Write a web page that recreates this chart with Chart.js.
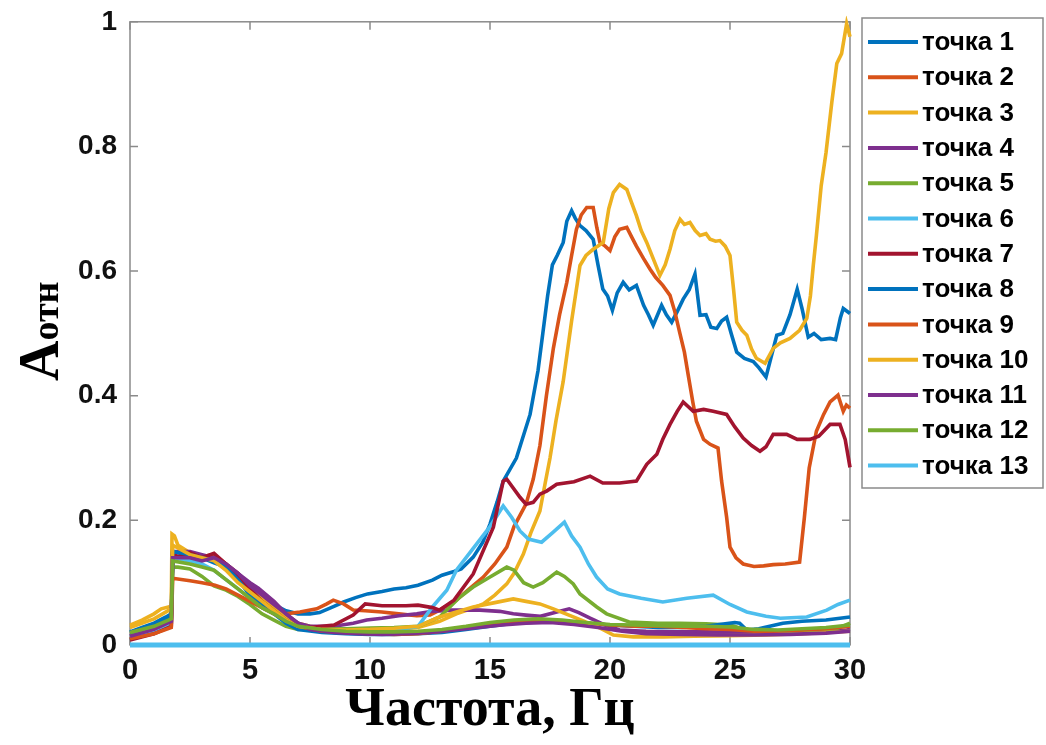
<!DOCTYPE html>
<html>
<head>
<meta charset="utf-8">
<script src="https://cdn.jsdelivr.net/npm/chart.js@4.4.1/dist/chart.umd.min.js"></script>
<style>
  body { margin: 0; background: #fff; }
  #wrap { width: 1046px; height: 745px; }
</style>
</head>
<body>
<div id="wrap"><canvas id="graf" width="1046" height="745"></canvas></div>
<script>
// точки: [частота, Aотн]
const tochka1 = [[0,0.021],[0.5,0.028],[1,0.035],[1.5,0.045],[1.72,0.05],[1.78,0.15],[2,0.148],[2.5,0.145],[3,0.14],[3.5,0.132],[4,0.125],[4.5,0.11],[5,0.095],[5.5,0.08],[6,0.065],[6.5,0.055],[7,0.05],[7.5,0.05],[7.9,0.052],[8.5,0.062],[8.9,0.069],[9.4,0.076],[9.9,0.082],[10.5,0.086],[11,0.09],[11.5,0.092],[12,0.096],[12.6,0.104],[13,0.112],[13.5,0.118],[13.8,0.122],[14.3,0.141],[14.7,0.165],[15,0.194],[15.3,0.23],[15.55,0.263],[16.1,0.3],[16.67,0.37],[17,0.44],[17.2,0.5],[17.4,0.56],[17.6,0.61],[17.8,0.625],[18.05,0.646],[18.2,0.68],[18.4,0.697],[18.55,0.685],[18.75,0.673],[19,0.665],[19.3,0.651],[19.5,0.61],[19.7,0.571],[19.9,0.56],[20.1,0.537],[20.3,0.565],[20.55,0.582],[20.8,0.57],[21.1,0.577],[21.4,0.545],[21.6,0.53],[21.8,0.513],[22.15,0.545],[22.35,0.53],[22.57,0.518],[22.8,0.535],[23.05,0.555],[23.3,0.57],[23.54,0.595],[23.75,0.529],[24,0.53],[24.2,0.51],[24.45,0.508],[24.65,0.52],[24.86,0.526],[25.05,0.5],[25.28,0.47],[25.6,0.46],[25.97,0.455],[26.2,0.445],[26.5,0.43],[26.7,0.46],[26.95,0.497],[27.2,0.5],[27.5,0.53],[27.8,0.571],[28,0.54],[28.26,0.494],[28.5,0.5],[28.8,0.49],[29.17,0.492],[29.4,0.49],[29.6,0.525],[29.72,0.54],[30,0.532]];
const tochka2 = [[0,0.011],[0.5,0.015],[1,0.02],[1.5,0.028],[1.72,0.032],[1.78,0.145],[2,0.14],[2.5,0.138],[3,0.142],[3.5,0.145],[4,0.13],[4.5,0.115],[5,0.095],[5.5,0.08],[6,0.065],[6.5,0.05],[7.08,0.053],[7.78,0.058],[8.2,0.066],[8.47,0.072],[8.9,0.066],[9.3,0.056],[9.8,0.055],[10.5,0.053],[11.2,0.05],[11.95,0.047],[12.5,0.048],[12.9,0.056],[13.6,0.072],[14.2,0.092],[14.72,0.109],[15.2,0.13],[15.7,0.157],[16,0.19],[16.5,0.226],[16.8,0.266],[17.08,0.32],[17.35,0.4],[17.64,0.476],[17.9,0.53],[18.2,0.582],[18.4,0.625],[18.6,0.667],[18.8,0.69],[19.03,0.702],[19.3,0.702],[19.45,0.67],[19.58,0.646],[19.8,0.64],[20,0.633],[20.2,0.655],[20.4,0.667],[20.7,0.67],[20.9,0.655],[21.1,0.64],[21.4,0.62],[21.67,0.603],[21.9,0.59],[22.2,0.577],[22.5,0.561],[22.7,0.535],[22.9,0.502],[23.1,0.47],[23.26,0.433],[23.45,0.39],[23.6,0.359],[23.9,0.33],[24.17,0.322],[24.5,0.316],[24.65,0.263],[24.86,0.205],[25,0.157],[25.25,0.14],[25.55,0.13],[26,0.126],[26.4,0.127],[26.8,0.129],[27.3,0.13],[27.9,0.133],[28.1,0.205],[28.3,0.284],[28.6,0.343],[28.9,0.37],[29.17,0.39],[29.5,0.401],[29.72,0.375],[29.85,0.385],[30,0.38]];
const tochka3 = [[0,0.032],[0.5,0.04],[1,0.05],[1.3,0.058],[1.72,0.062],[1.75,0.178],[1.85,0.175],[2,0.16],[2.5,0.148],[3,0.14],[3.5,0.14],[4,0.128],[4.5,0.11],[5,0.09],[5.5,0.075],[6,0.06],[6.5,0.045],[7,0.035],[7.5,0.03],[8,0.027],[9,0.025],[10,0.024],[11,0.025],[12,0.028],[12.9,0.038],[13.6,0.05],[14.2,0.058],[14.72,0.066],[15.2,0.08],[15.7,0.098],[16,0.115],[16.39,0.146],[16.7,0.18],[17.08,0.215],[17.3,0.26],[17.5,0.3],[17.75,0.36],[18.05,0.423],[18.4,0.52],[18.75,0.609],[19,0.625],[19.3,0.635],[19.72,0.646],[19.95,0.7],[20.14,0.726],[20.4,0.739],[20.7,0.731],[20.9,0.71],[21.1,0.689],[21.3,0.665],[21.53,0.646],[21.8,0.62],[22.08,0.593],[22.3,0.61],[22.5,0.635],[22.7,0.665],[22.92,0.683],[23.1,0.675],[23.33,0.678],[23.55,0.665],[23.75,0.657],[24,0.66],[24.17,0.651],[24.4,0.648],[24.58,0.649],[24.8,0.64],[25,0.625],[25.15,0.57],[25.28,0.518],[25.5,0.505],[25.7,0.497],[25.9,0.475],[26.1,0.46],[26.46,0.452],[26.8,0.476],[27.1,0.485],[27.5,0.492],[27.9,0.505],[28.2,0.524],[28.35,0.56],[28.47,0.609],[28.6,0.657],[28.8,0.737],[29,0.79],[29.24,0.87],[29.45,0.933],[29.65,0.949],[29.86,0.997],[30,0.976]];
const tochka4 = [[0,0.015],[1,0.025],[1.72,0.035],[1.78,0.15],[2.5,0.15],[3,0.145],[3.5,0.14],[4,0.13],[4.5,0.115],[5,0.1],[5.35,0.091],[6,0.07],[6.5,0.05],[7,0.035],[7.5,0.03],[8.5,0.03],[9.3,0.035],[9.86,0.04],[10.5,0.043],[11.2,0.047],[11.95,0.05],[12.6,0.054],[13.33,0.056],[14,0.056],[14.58,0.056],[15.4,0.054],[15.97,0.05],[16.5,0.048],[17.1,0.046],[17.7,0.052],[18.3,0.058],[18.7,0.052],[19.17,0.043],[19.8,0.032],[20.4,0.024],[21.5,0.022],[22.9,0.021],[24,0.021],[25.7,0.02],[27,0.019],[28.5,0.021],[29.86,0.024],[30,0.025]];
const tochka5 = [[0,0.018],[1,0.028],[1.72,0.04],[1.78,0.125],[2,0.125],[2.5,0.122],[3,0.11],[3.5,0.095],[4,0.088],[4.5,0.078],[5,0.065],[5.5,0.05],[6,0.04],[6.5,0.03],[7,0.025],[8,0.025],[9,0.026],[10,0.027],[11,0.028],[12,0.03],[12.9,0.045],[13.75,0.077],[14.3,0.093],[15,0.109],[15.7,0.125],[16,0.12],[16.4,0.1],[16.8,0.093],[17.2,0.1],[17.78,0.117],[18.1,0.11],[18.47,0.098],[18.75,0.082],[19.45,0.061],[19.86,0.05],[20.8,0.037],[22,0.035],[22.9,0.035],[24,0.034],[25,0.032],[25.7,0.024],[26.5,0.022],[27.5,0.021],[28.5,0.021],[29.3,0.024],[30,0.035]];
const tochka6 = [[0,0.012],[1,0.022],[1.72,0.035],[1.78,0.14],[2.5,0.135],[3,0.13],[3.5,0.12],[4,0.105],[4.5,0.09],[5,0.075],[5.5,0.06],[6,0.05],[6.5,0.04],[7,0.03],[7.5,0.025],[8,0.022],[9,0.02],[10,0.021],[11,0.023],[12,0.03],[12.6,0.061],[13.2,0.088],[13.6,0.12],[14.3,0.155],[15,0.19],[15.55,0.223],[15.9,0.205],[16.25,0.183],[16.6,0.17],[17.15,0.165],[17.6,0.18],[18.1,0.197],[18.4,0.175],[18.75,0.157],[19.1,0.13],[19.44,0.109],[19.9,0.09],[20.4,0.082],[21.3,0.075],[22.2,0.069],[23.2,0.075],[24.3,0.08],[25,0.065],[25.7,0.053],[26.5,0.046],[27.1,0.043],[28.2,0.045],[29.03,0.056],[29.5,0.065],[30,0.072]];
const tochka7 = [[0,0.008],[1,0.018],[1.72,0.03],[1.78,0.145],[2,0.142],[2.5,0.148],[3,0.14],[3.5,0.147],[4,0.13],[4.5,0.11],[5,0.09],[5.5,0.07],[6,0.055],[6.5,0.04],[7,0.03],[7.5,0.028],[8.5,0.032],[9.3,0.048],[9.8,0.066],[10.5,0.063],[11.5,0.063],[12,0.064],[12.6,0.06],[12.9,0.056],[13.5,0.072],[14.3,0.114],[15.14,0.189],[15.55,0.263],[15.7,0.266],[16.25,0.237],[16.5,0.226],[16.8,0.229],[17.08,0.242],[17.36,0.247],[17.78,0.258],[18.5,0.262],[19.17,0.271],[19.7,0.26],[20.4,0.26],[21.1,0.263],[21.53,0.29],[21.95,0.306],[22.2,0.33],[22.5,0.354],[22.8,0.375],[23.05,0.39],[23.47,0.375],[23.9,0.378],[24.3,0.375],[24.86,0.37],[25.2,0.35],[25.55,0.332],[25.9,0.32],[26.25,0.311],[26.5,0.318],[26.8,0.338],[27.36,0.338],[27.8,0.33],[28.33,0.33],[28.7,0.335],[29.17,0.354],[29.58,0.354],[29.8,0.33],[30,0.285]];
const tochka8 = [[0,0.02],[1,0.032],[1.72,0.045],[1.78,0.15],[2.5,0.145],[3,0.14],[3.5,0.135],[4,0.125],[4.5,0.105],[5,0.08],[5.5,0.065],[6,0.05],[6.5,0.035],[7,0.025],[8,0.02],[9,0.018],[10,0.017],[11,0.017],[12,0.018],[13,0.02],[14,0.025],[15,0.03],[16,0.035],[17,0.037],[18,0.037],[19,0.035],[20,0.032],[21,0.03],[22,0.028],[23,0.028],[24,0.03],[24.8,0.034],[25.2,0.036],[25.4,0.035],[25.7,0.024],[26.2,0.026],[27.2,0.035],[28,0.038],[29,0.04],[30,0.045]];
const tochka9 = [[0,0.01],[1,0.018],[1.72,0.028],[1.78,0.107],[2.5,0.103],[3,0.1],[3.54,0.096],[4,0.09],[4.5,0.08],[5,0.07],[5.5,0.06],[6,0.05],[6.5,0.04],[7,0.03],[8,0.022],[9,0.02],[10,0.018],[11,0.017],[12,0.018],[13,0.022],[14,0.028],[15,0.033],[16,0.037],[17,0.04],[18,0.038],[19,0.035],[20,0.032],[21,0.03],[22,0.03],[23,0.028],[24,0.026],[25,0.025],[26,0.022],[27,0.022],[28,0.024],[29,0.026],[30,0.03]];
const tochka10 = [[0,0.028],[1,0.042],[1.72,0.058],[1.78,0.16],[2.5,0.145],[3,0.14],[3.5,0.135],[4,0.12],[4.5,0.1],[5,0.085],[5.5,0.07],[6,0.055],[6.5,0.04],[7,0.03],[8,0.025],[9,0.024],[10,0.025],[11,0.027],[12,0.03],[12.9,0.045],[14.3,0.061],[15.2,0.068],[15.97,0.074],[16.5,0.07],[17.08,0.066],[17.64,0.058],[18.47,0.045],[19.45,0.03],[20.14,0.016],[20.97,0.013],[22.2,0.013],[23.5,0.014],[25,0.015],[26.5,0.016],[28,0.018],[29,0.02],[30,0.022]];
const tochka11 = [[0,0.014],[1,0.025],[1.72,0.038],[1.78,0.14],[2.5,0.14],[3,0.135],[3.5,0.14],[4,0.13],[4.5,0.115],[5,0.095],[5.5,0.08],[6,0.065],[6.5,0.05],[7,0.035],[7.5,0.025],[8.5,0.02],[9.5,0.018],[10.5,0.017],[11.5,0.018],[12.5,0.02],[13.5,0.024],[14.5,0.028],[15.5,0.032],[16.5,0.035],[17.5,0.036],[18.5,0.033],[19.5,0.028],[20.5,0.022],[21.5,0.018],[23,0.017],[24.5,0.016],[26,0.016],[27.5,0.017],[29,0.019],[30,0.022]];
const tochka12 = [[0,0.02],[1,0.03],[1.72,0.042],[1.78,0.135],[2.5,0.13],[3,0.125],[3.5,0.12],[4,0.105],[4.5,0.09],[5,0.075],[5.5,0.06],[6,0.05],[6.5,0.038],[7,0.03],[8,0.025],[9,0.022],[10,0.021],[11,0.021],[12,0.022],[13,0.025],[14,0.03],[15,0.036],[16,0.04],[17,0.042],[18,0.04],[19,0.036],[20,0.033],[21,0.032],[22,0.031],[23,0.03],[24,0.03],[25,0.029],[26,0.025],[27,0.024],[28,0.026],[29,0.028],[30,0.032]];
const tochka13 = [[0,0],[30,0]];

const series = [tochka1, tochka2, tochka3, tochka4, tochka5, tochka6, tochka7, tochka8, tochka9, tochka10, tochka11, tochka12, tochka13];
const names = series.map((s, i) => "точка " + (i + 1));
const colors = ["#0072BD", "#D95319", "#EDB120", "#7E2F8E", "#77AC30", "#4DBEEE", "#A2142F",
                "#0072BD", "#D95319", "#EDB120", "#7E2F8E", "#77AC30", "#4DBEEE"];
const xTicks = [0, 5, 10, 15, 20, 25, 30];
const yTicks = [0, 0.2, 0.4, 0.6, 0.8, 1];

const SANS = "'Liberation Sans', Arial, sans-serif";
const SERIF = "'Liberation Serif', 'Times New Roman', serif";
const AXIS = "#8a8a8a";

// рамка и засечки внутрь (как в MATLAB)
const ramka = {
  id: "ramka",
  beforeDatasetsDraw(chart) {
    const { ctx, chartArea: a, scales: { x, y } } = chart;
    ctx.save();
    ctx.strokeStyle = AXIS;
    ctx.lineWidth = 1.5;
    ctx.strokeRect(a.left, a.top, a.width, a.height);
    const tl = 8;
    ctx.beginPath();
    x.ticks.forEach(t => {
      const px = x.getPixelForValue(t.value);
      ctx.moveTo(px, a.bottom); ctx.lineTo(px, a.bottom - tl);
      ctx.moveTo(px, a.top); ctx.lineTo(px, a.top + tl);
    });
    y.ticks.forEach(t => {
      const py = y.getPixelForValue(t.value);
      ctx.moveTo(a.left, py); ctx.lineTo(a.left + tl, py);
      ctx.moveTo(a.right, py); ctx.lineTo(a.right - tl, py);
    });
    ctx.stroke();
    ctx.restore();
  },
  afterDraw(chart) {
    const { ctx } = chart;
    ctx.save();
    // подпись оси Y: A + "отн"
    ctx.translate(58, 381);
    ctx.rotate(-Math.PI / 2);
    ctx.fillStyle = "#000";
    ctx.textBaseline = "alphabetic";
    ctx.font = "bold 56px " + SERIF;
    ctx.fillText("A", 0, 0);
    const wA = ctx.measureText("A").width;
    ctx.font = "bold 38px " + SERIF;
    ctx.fillText("отн", wA, 0);
    ctx.restore();

    // легенда
    ctx.save();
    const lx = 862, ly = 18, lw = 181, lh = 470;
    ctx.fillStyle = "#fff";
    ctx.fillRect(lx, ly, lw, lh);
    ctx.strokeStyle = AXIS;
    ctx.lineWidth = 1.5;
    ctx.strokeRect(lx, ly, lw, lh);
    ctx.font = "bold 26px " + SANS;
    ctx.textBaseline = "middle";
    chart.data.datasets.forEach((ds, i) => {
      const yy = 42 + i * 35.3;
      ctx.strokeStyle = ds.borderColor;
      ctx.lineWidth = 4;
      ctx.beginPath();
      ctx.moveTo(868, yy); ctx.lineTo(918, yy);
      ctx.stroke();
      ctx.fillStyle = "#000";
      ctx.fillText(ds.label, 922, yy + 1);
    });
    ctx.restore();
  }
};

const datasets = series.map((pts, i) => ({
  label: names[i],
  data: pts.map(([x, y]) => ({ x, y })),
  borderColor: colors[i],
  backgroundColor: colors[i],
  borderWidth: i === series.length - 1 ? 5 : 3.6,
  pointRadius: 0,
  tension: 0,
  order: series.length - i,
  clip: 6
}));

new Chart(document.getElementById("graf"), {
  type: "line",
  data: { datasets },
  options: {
    responsive: false,
    animation: false,
    layout: { padding: { left: 0, top: 6, right: 196, bottom: 0 } },
    plugins: { legend: { display: false }, tooltip: { enabled: false } },
    scales: {
      x: {
        type: "linear", min: 0, max: 30,
        afterBuildTicks: s => { s.ticks = xTicks.map(v => ({ value: v })); },
        ticks: { color: "#111", font: { family: SANS, size: 29, weight: "bold" }, padding: 1, maxRotation: 0 },
        grid: { display: false },
        border: { display: false },
        title: { display: true, text: "Частота, Гц", color: "#000", font: { family: SERIF, size: 54, weight: "bold" }, padding: { top: 0, bottom: 2 } },
        afterFit: s => { s.height = 100; }
      },
      y: {
        type: "linear", min: 0, max: 1,
        afterBuildTicks: s => { s.ticks = yTicks.map(v => ({ value: v })); },
        ticks: { color: "#111", font: { family: SANS, size: 28, weight: "bold" }, padding: 5, callback: v => String(+v.toFixed(1)) },
        grid: { display: false },
        border: { display: false },
        afterFit: s => { s.width = 130; }
      }
    }
  },
  plugins: [ramka]
});
</script>
</body>
</html>
